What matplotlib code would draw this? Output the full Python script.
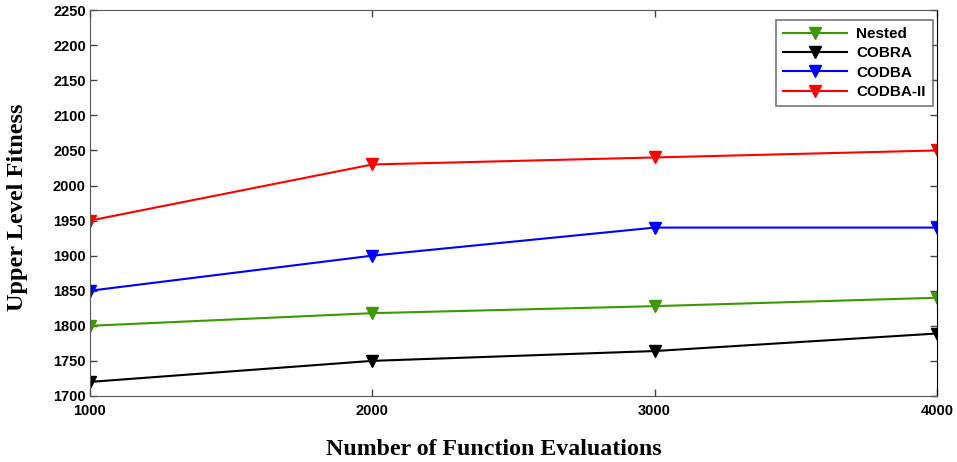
import matplotlib.pyplot as plt

# datos
evaluaciones = [1000, 2000, 3000, 4000]
nested = [1800, 1818, 1828, 1840]
cobra = [1720, 1750, 1764, 1789]
codba = [1850, 1900, 1940, 1940]
codba2 = [1950, 2030, 2040, 2050]

etiquetas = ("Nested", "COBRA", "CODBA", "CODBA-II")
colores = ("#3c9a00", "black", "#0000ff", "#ff0000")

fig = plt.figure(figsize=(9.57, 4.62), dpi=100)
ax = fig.add_axes([0.094, 0.143, 0.885, 0.835])

for serie, etiqueta, color in zip([nested, cobra, codba, codba2], etiquetas, colores):
    ax.plot(evaluaciones, serie, color=color, marker="v", markersize=9,
            linewidth=1.5, label=etiqueta)

ax.set_xlim(1000, 4000)
ax.set_ylim(1700, 2250)
ax.set_xticks(evaluaciones)
ax.set_yticks(range(1700, 2251, 50))
ax.tick_params(direction="in", top=True, right=True, length=5, width=1,
               color="#444444")
ax.tick_params(axis="x", pad=6)
ax.tick_params(axis="y", pad=3)
for lbl in ax.get_xticklabels() + ax.get_yticklabels():
    lbl.set_fontfamily("Liberation Sans")
    lbl.set_fontweight("bold")
    lbl.set_fontsize(10.5)
for s in ax.spines.values():
    s.set_color("#555555")
ax.spines["right"].set_color("black")

ax.set_xlabel("Number of Function Evaluations", fontfamily="Liberation Serif",
              fontweight="bold", fontsize=17.2)
ax.xaxis.set_label_coords(0.477, -0.112)
ax.set_ylabel("Upper Level Fitness", fontfamily="Liberation Serif",
              fontweight="bold", fontsize=17.5)
ax.yaxis.set_label_coords(-0.073, 0.49)

leg = ax.legend(loc="upper right", bbox_to_anchor=(0.995, 0.974), fancybox=False,
                borderaxespad=0, edgecolor="#555555", handlelength=4.2, borderpad=0.45,
                labelspacing=0.35, handletextpad=0.6,
                prop={"family": "Liberation Sans", "weight": "bold", "size": 11})
leg.get_frame().set_linewidth(1.2)

fig.savefig("out.png", dpi=100)
